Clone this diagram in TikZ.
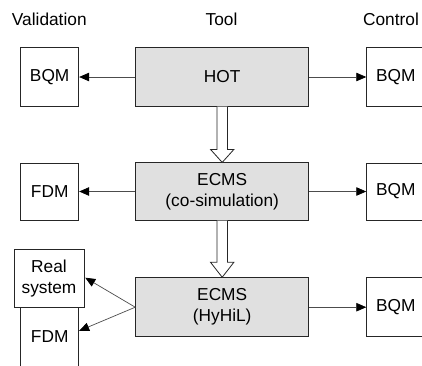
\documentclass[tikz,border=0pt]{standalone}
\usepackage{fontspec}
\setmainfont{Liberation Sans}
\usetikzlibrary{arrows.meta,calc}
\definecolor{boxgray}{HTML}{E0E0E0}
\begin{document}
\begin{tikzpicture}[x=1pt,y=-1pt,
  txt/.style={font=\fontsize{17.3}{21}\selectfont},
  box/.style={txt,draw=black!85,line width=0.9pt,rectangle,inner sep=0pt,align=center},
  tool/.style={box,fill=boxgray,minimum width=173pt},
  side/.style={box,fill=white,minimum width=58pt},
  conn/.style={draw=black!70,line width=0.7pt,-{Triangle[length=10pt,width=8.5pt,color=black,fill=black]}},
  dbl/.style={draw=black!85,line width=0.8pt,fill=white,line join=miter}
]
\clip (0,0) rectangle (422,365);
% headings
\node[txt,anchor=base] (hval) at (49.3,25) {Validation};
\node[txt,anchor=base] (htool) at (221.5,25) {Tool};
\node[txt,anchor=base] (hctl) at (391,25) {Control};
% row 1
\node[tool,minimum height=58.3pt] (hot) at (222.2,77) {HOT};
\node[side,minimum height=58.3pt] (v1) at (49.7,77) {BQM};
\node[side,minimum height=58.3pt] (c1) at (395.7,77) {BQM};
% row 2
\node[tool,minimum height=57.3pt] (ecms1) at (222.2,191.5) {ECMS\\(co-simulation)};
\node[side,minimum height=57pt] (v2) at (49.7,191.5) {FDM};
\node[side,minimum height=57pt] (c2) at (395.7,191.5) {BQM};
% row 3
\node[tool,minimum height=59pt] (ecms2) at (222.2,307.2) {ECMS\\(HyHiL)};
\node[side,minimum height=58.3pt] (fdm3) at (49.7,336.8) {FDM};
\node[side,minimum width=70pt,minimum height=58.4pt] (real) at (49,278.5) {Real\\system};
\node[side,minimum height=59pt] (c3) at (395.7,307.2) {BQM};
% connectors
\draw[conn] (hot.west) -- (v1.east);
\draw[conn] (hot.east) -- (c1.west);
\draw[conn] (ecms1.west) -- (v2.east);
\draw[conn] (ecms1.east) -- (c2.west);
\draw[conn] (ecms2.east) -- (c3.west);
\draw[conn] (ecms2.west) -- ($(real.east)+(0.8,-0.8)$);
\draw[conn] (ecms2.west) -- ($(fdm3.east)+(0,-6)$);
% hollow arrows
\draw[dbl] ($(hot.south)+(-5.3,0)$) -- ($(ecms1.north)+(-5.3,-13)$) -- ($(ecms1.north)+(-11.7,-13)$) -- (ecms1.north) -- ($(ecms1.north)+(11.7,-13)$) -- ($(ecms1.north)+(5.3,-13)$) -- ($(hot.south)+(5.3,0)$);
\draw[dbl] ($(ecms1.south)+(-5.3,0)$) -- ($(ecms2.north)+(-5.3,-15)$) -- ($(ecms2.north)+(-11.7,-15)$) -- (ecms2.north) -- ($(ecms2.north)+(11.7,-15)$) -- ($(ecms2.north)+(5.3,-15)$) -- ($(ecms1.south)+(5.3,0)$);
\end{tikzpicture}
\end{document}
